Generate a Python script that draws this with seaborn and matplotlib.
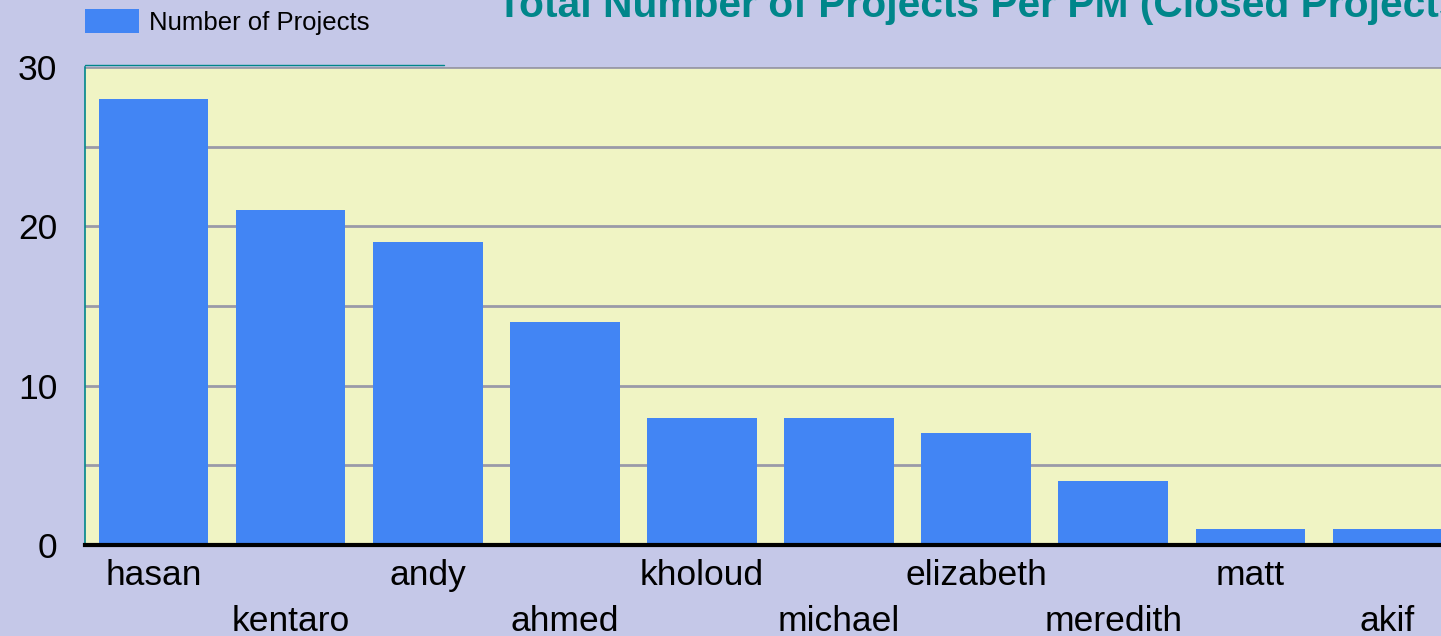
import matplotlib
matplotlib.use('Agg')
import matplotlib.pyplot as plt
import seaborn as sns
import pandas as pd

# chart data
managers = ['hasan', 'kentaro', 'andy', 'ahmed', 'kholoud',
            'michael', 'elizabeth', 'meredith', 'matt', 'akif']
n_projects = [28, 21, 19, 14, 8, 8, 7, 4, 1, 1]
y_major = [0, 10, 20, 30]
y_minor = [5, 15, 25]

BG = '#c5c8e8'
PLOT_BG = '#f0f4c4'
BAR = '#4285f4'
TEAL = '#00868a'
GRID = '#9a9aa8'

sns.set_style('white')
plt.rcParams['font.family'] = ['Liberation Sans', 'DejaVu Sans']

df = pd.DataFrame({'pm': managers, 'count': n_projects})

fig = plt.figure(figsize=(14.41, 6.36), dpi=100, facecolor=BG)
ax = fig.add_axes([85 / 1441, 1 - 545 / 636, (1456 - 85) / 1441, (545 - 67) / 636])
ax.set_facecolor(PLOT_BG)

sns.barplot(data=df, x='pm', y='count', color=BAR, width=0.8, saturation=1,
            edgecolor=BAR, linewidth=0, label='Number of Projects',
            legend=False, ax=ax, zorder=3)
if ax.get_legend() is not None:
    ax.get_legend().remove()

ax.set_xlim(-0.5, len(managers) - 0.5)
ax.set_ylim(0, 30)
ax.set_yticks(y_major)
ax.set_yticks(y_minor, minor=True)
ax.grid(axis='y', which='both', color=GRID, linewidth=2, zorder=0)
ax.set_axisbelow(True)
ax.tick_params(axis='both', which='both', length=0, labelsize=25.5,
               labelcolor='black')
ax.tick_params(axis='y', pad=20)
ax.set_xlabel('')
ax.set_ylabel('')

# stagger the names on two rows
for i, tick in enumerate(ax.xaxis.get_major_ticks()):
    tick.set_pad(10 if i % 2 == 0 else 43)

for side in ['top', 'right']:
    ax.spines[side].set_visible(False)
ax.spines['left'].set_color(TEAL)
ax.spines['left'].set_linewidth(1.2)
ax.spines['bottom'].set_color('black')
ax.spines['bottom'].set_linewidth(3)
ax.spines['bottom'].set_zorder(5)
ax.plot([0, 0.262], [1.004, 1.004], transform=ax.transAxes, color=TEAL,
        linewidth=1, clip_on=False)

handles, labels = ax.get_legend_handles_labels()
fig.legend(handles[:1], labels[:1], loc='upper left',
           bbox_to_anchor=(85 / 1441, 1 - 9 / 636), frameon=False,
           fontsize=18.5, labelcolor='black', handlelength=2.1,
           handleheight=1.05, handletextpad=0.4, borderpad=0, borderaxespad=0)

fig.text(497 / 1441, 1 - 17 / 636, 'Total Number of Projects Per PM (Closed Projects)',
         ha='left', va='baseline', fontsize=29.3, fontweight='bold', color=TEAL)

fig.savefig('out.png', dpi=100, facecolor=BG)
